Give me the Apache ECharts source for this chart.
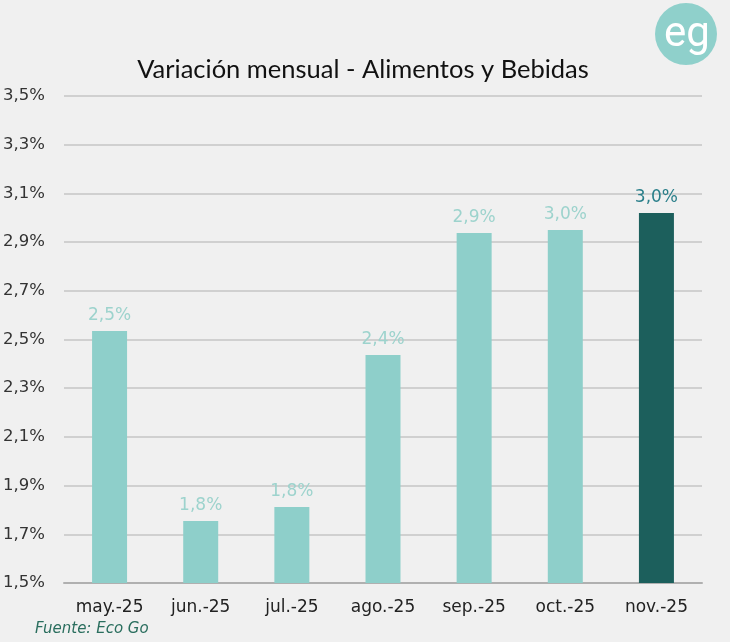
<!DOCTYPE html>
<html><head><meta charset="utf-8">
<script src="https://cdn.jsdelivr.net/npm/echarts@6/dist/echarts.min.js"></script>
<style>html,body{margin:0;padding:0;background:#f0f0f0;}#c{width:730px;height:642px;}</style>
</head><body><div id="c"></div>
<script>
const categories = ['may.-25','jun.-25','jul.-25','ago.-25','sep.-25','oct.-25','nov.-25'];
const values = [2.535, 1.755, 1.812, 2.436, 2.937, 2.95, 3.02];
const labels = ['2,5%','1,8%','1,8%','2,4%','2,9%','3,0%','3,0%'];

const light = '#8ecfca', dark = '#1c5f5c';
const lblFont = 'DejaVu Sans';
const chart = echarts.init(document.getElementById('c'));
chart.setOption({
  backgroundColor: '#f0f0f0',
  animation: false,
  title: {text: 'Variación mensual - Alimentos y Bebidas', left: 358, top: 52, textAlign: 'center',
    textStyle: {fontFamily: 'Lato', fontSize: 25.5, fontWeight: 'normal', color: '#111'}},
  grid: {left: 62, right: 28, top: 96, bottom: 59},
  xAxis: {type: 'category', data: categories,
    axisLine: {lineStyle: {color: '#b0b0b0', width: 2}}, axisTick: {show: false},
    axisLabel: {fontFamily: lblFont, fontSize: 17, color: '#222', margin: 16}},
  yAxis: {type: 'value', min: 1.5, max: 3.5, interval: 0.2,
    axisLine: {show: false}, axisTick: {show: false},
    splitLine: {lineStyle: {color: '#c6c6c6', width: 1.5}},
    axisLabel: {fontFamily: lblFont, fontSize: 16.5, color: '#333', align: 'left', margin: 61,
      formatter: v => v.toFixed(1).replace('.', ',') + '%'}},
  series: [{type: 'bar', barWidth: 35,
    data: values.map((v, i) => ({value: v, itemStyle: {color: i === 6 ? dark : light},
      label: {color: i === 6 ? '#2a7f8a' : '#9dd3cd'}})),
    label: {show: true, position: 'top', distance: 7, fontFamily: lblFont, fontSize: 17,
      formatter: p => labels[p.dataIndex]}}],
  graphic: [
    {type: 'circle', shape: {cx: 686, cy: 34, r: 31}, style: {fill: '#8fd0cb'}},
    {type: 'text', left: 664, top: 14, style: {text: 'eg', fill: '#ffffff', font: '400 42px Roboto'}},
    {type: 'text', left: 35, top: 622, style: {text: 'Fuente: Eco Go', fill: '#2a6e5e', font: 'oblique 15px "DejaVu Sans"'}}
  ]
});
</script></body></html>
